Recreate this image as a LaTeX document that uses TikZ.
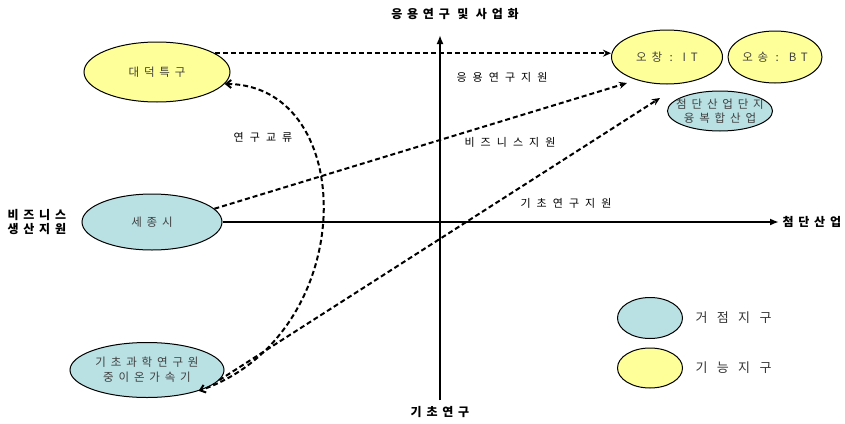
\documentclass[tikz,border=0pt]{standalone}
\usepackage{fontspec}
\newfontfamily\kr[LetterSpace=42]{Noto Sans CJK KR}
\newfontfamily\krw[LetterSpace=55]{Noto Sans CJK KR}
\newfontfamily\krl[LetterSpace=72]{Noto Sans CJK KR}
\newfontfamily\krb[LetterSpace=40]{Noto Sans CJK KR}
\usetikzlibrary{arrows.meta,calc,shapes.geometric}
\definecolor{yelfill}{HTML}{FFFF99}
\definecolor{blufill}{HTML}{B9E0E3}
\begin{document}
\begin{tikzpicture}[x=1pt,y=-1pt,
  ell/.style={ellipse, draw, line width=1pt, inner sep=0pt},
  elltext/.style={font=\kr\fontsize{11.5}{15}\selectfont, text=black!75, align=center},
  yel/.style={ell, fill=yelfill},
  blu/.style={ell, fill=blufill},
  dashline/.style={line width=2pt, dash pattern=on 5pt off 3pt},
  dasharrow/.style={dashline, -{Stealth[length=8pt,width=7pt]}},
  axis/.style={line width=2.4pt, -{Latex[length=9pt,width=7pt]}},
  lab/.style={font=\krw\fontsize{11}{13}\selectfont},
  leglab/.style={font=\krl\fontsize{13}{15}\selectfont, text=black!80, anchor=west},
  axlab/.style={font=\krb\bfseries\fontsize{12}{14.5}\selectfont, align=left}]
\useasboundingbox (0,0) rectangle (845,423);
% ellipses
\node[yel, minimum width=146pt, minimum height=60pt, label={[elltext]center:대덕특구}] (daedeok) at (157,72) {};
\node[blu, minimum width=140pt, minimum height=56pt, label={[elltext]center:세종시}] (sejong) at (152,222) {};
\node[blu, minimum width=154pt, minimum height=55pt, label={[elltext]center:기초과학연구원\\중이온가속기}] (gicho) at (147,370) {};
\node[yel, minimum width=111pt, minimum height=54pt, label={[elltext]center:오창 : IT}] (ochang) at (667,57) {};
\node[yel, minimum width=94pt, minimum height=52pt, label={[elltext]center:오송 : BT}] (osong) at (775,57) {};
\node[blu, minimum width=105pt, minimum height=40pt, label={[elltext, font=\kr\fontsize{11.5}{14}\selectfont]center:첨단산업단지\\융복합산업}] (cheomdan) at (720,111) {};
% legend
\node[blu, minimum width=65pt, minimum height=41pt] (legb) at (650,318) {};
\node[yel, minimum width=65pt, minimum height=40pt] (legy) at (650,368) {};
\node[leglab] (legbt) at (692,318) {거점지구};
\node[leglab] (legyt) at (692,368) {기능지구};
% axes
\coordinate (vb) at (440,400);
\coordinate (vt) at (440,35);
\coordinate (hx) at (779,222);
\draw[axis] (vb) -- (vt);
\draw[axis] (sejong.east) -- (hx);
\node[axlab] (top) at (455,14) {응용연구 및 사업화};
\node[axlab] (bot) at (440,412) {기초연구};
\node[axlab, anchor=west] (right) at (779,222) {첨단산업};
\node[axlab, anchor=west] (left) at (4,222) {비즈니스\\생산지원};
% connectors
\draw[dasharrow] (daedeok.18) -- (daedeok.18 -| ochang.west);
\draw[dasharrow] (sejong.12) -- ($(ochang.center)+(-40,26)$);
\draw[dasharrow] (gicho.-8) -- ($(cheomdan.center)+(-60,-13)$);
\draw[dashline, {Straight Barb[length=5pt,width=8pt]}-{Straight Barb[length=5pt,width=8pt]}]
  (daedeok.-10) .. controls (360,85) and (360,335) .. (gicho.-22);
% labels
\node[lab] (l1) at (502,77) {응용연구지원};
\node[lab] (l2) at (510,142) {비즈니스지원};
\node[lab] (l3) at (566,203) {기초연구지원};
\node[lab] (l4) at (263,137) {연구교류};
\end{tikzpicture}
\end{document}
